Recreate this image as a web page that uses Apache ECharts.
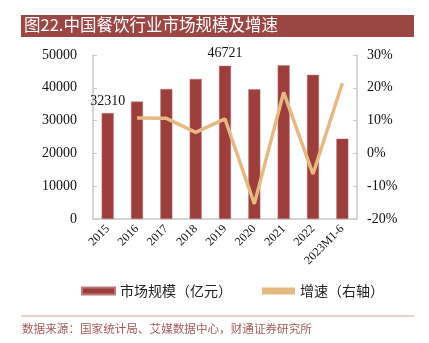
<!DOCTYPE html>
<html><head><meta charset="utf-8">
<script src="https://cdn.jsdelivr.net/npm/echarts@6/dist/echarts.min.js"></script>
<style>html,body{margin:0;padding:0;background:#fff;}#c{width:429px;height:343px;}</style>
</head><body><div id="c"></div>
<script>
var categories = ['2015','2016','2017','2018','2019','2020','2021','2022','2023M1-6'];
var marketSize = [32310, 35799, 39644, 42716, 46721, 39527, 46895, 43941, 24502];
var growth = [null, 10.8, 10.7, 6.4, 10.5, -15.4, 18.6, -6.3, 21.4];
var leftTicks = [0, 10000, 20000, 30000, 40000, 50000];
var rightTicks = [-20, -10, 0, 10, 20, 30];
var labeled = {0: true, 4: true};

var serif = '"Liberation Serif","DejaVu Serif",serif';
var cjk = '"Noto Sans CJK SC","Noto Sans",sans-serif';
var chart = echarts.init(document.getElementById('c'), null, {renderer: 'canvas'});
chart.setOption({
  animation: false,
  backgroundColor: '#fff',
  graphic: [
    {type: 'rect', shape: {x: 21, y: 15, width: 393, height: 22}, style: {fill: '#9C4644'}},
    {type: 'text', left: 24, top: 16, style: {text: '图22.中国餐饮行业市场规模及增速', fill: '#fff', font: '16.5px ' + cjk}},
    {type: 'line', shape: {x1: 21, y1: 316, x2: 414, y2: 316}, style: {stroke: '#D8A8A6', lineWidth: 1.2}},
    {type: 'text', left: 22, top: 323, style: {text: '数据来源：国家统计局、艾媒数据中心，财通证券研究所', fill: '#A85A58', font: '11.6px ' + cjk}}
  ],
  grid: {left: 93, right: 72, top: 55, bottom: 124},
  legend: {
    bottom: 40, left: 76, itemGap: 30, itemWidth: 33, itemHeight: 7,
    textStyle: {fontFamily: cjk, fontSize: 14, color: '#222'},
    data: [
      {name: '市场规模（亿元）', icon: 'rect'},
      {name: '增速（右轴）', icon: 'rect', itemStyle: {color: '#E6B982'}}
    ]
  },
  xAxis: {
    type: 'category', data: categories,
    axisLine: {lineStyle: {color: '#C8C8C8', width: 1.5}},
    axisTick: {show: false},
    axisLabel: {rotate: 45, fontFamily: serif, fontSize: 12, color: '#111', margin: 8, interval: 0}
  },
  yAxis: [
    {type: 'value', min: leftTicks[0], max: leftTicks[leftTicks.length - 1], interval: 10000,
     axisLine: {show: true, lineStyle: {color: '#C8C8C8', width: 1.5}},
     axisTick: {show: true, inside: true, length: 4, lineStyle: {color: '#C8C8C8'}},
     splitLine: {show: false},
     axisLabel: {fontFamily: serif, fontSize: 14, color: '#111', margin: 16, formatter: function (v) { return String(v); }}},
    {type: 'value', min: rightTicks[0], max: rightTicks[rightTicks.length - 1], interval: 10,
     axisLine: {show: true, lineStyle: {color: '#C8C8C8', width: 1.5}},
     axisTick: {show: true, inside: true, length: 4, lineStyle: {color: '#C8C8C8'}},
     splitLine: {show: false},
     axisLabel: {fontFamily: serif, fontSize: 14, color: '#111', margin: 10, formatter: '{value}%'}}
  ],
  series: [
    {name: '市场规模（亿元）', type: 'bar', yAxisIndex: 0, barWidth: 12,
     itemStyle: {color: '#9C3E3C', borderColor: '#C07674', borderWidth: 0.5},
     data: marketSize.map(function (v, i) {
       return labeled[i] ? {value: v, label: {show: true, position: 'top', distance: 5, fontFamily: serif, fontSize: 14, color: '#111'}} : v;
     })},
    {name: '增速（右轴）', type: 'line', yAxisIndex: 1, data: growth,
     symbol: 'none', lineStyle: {color: '#E6B982', width: 3.5}, itemStyle: {color: '#E6B982'}}
  ]
});
</script></body></html>
